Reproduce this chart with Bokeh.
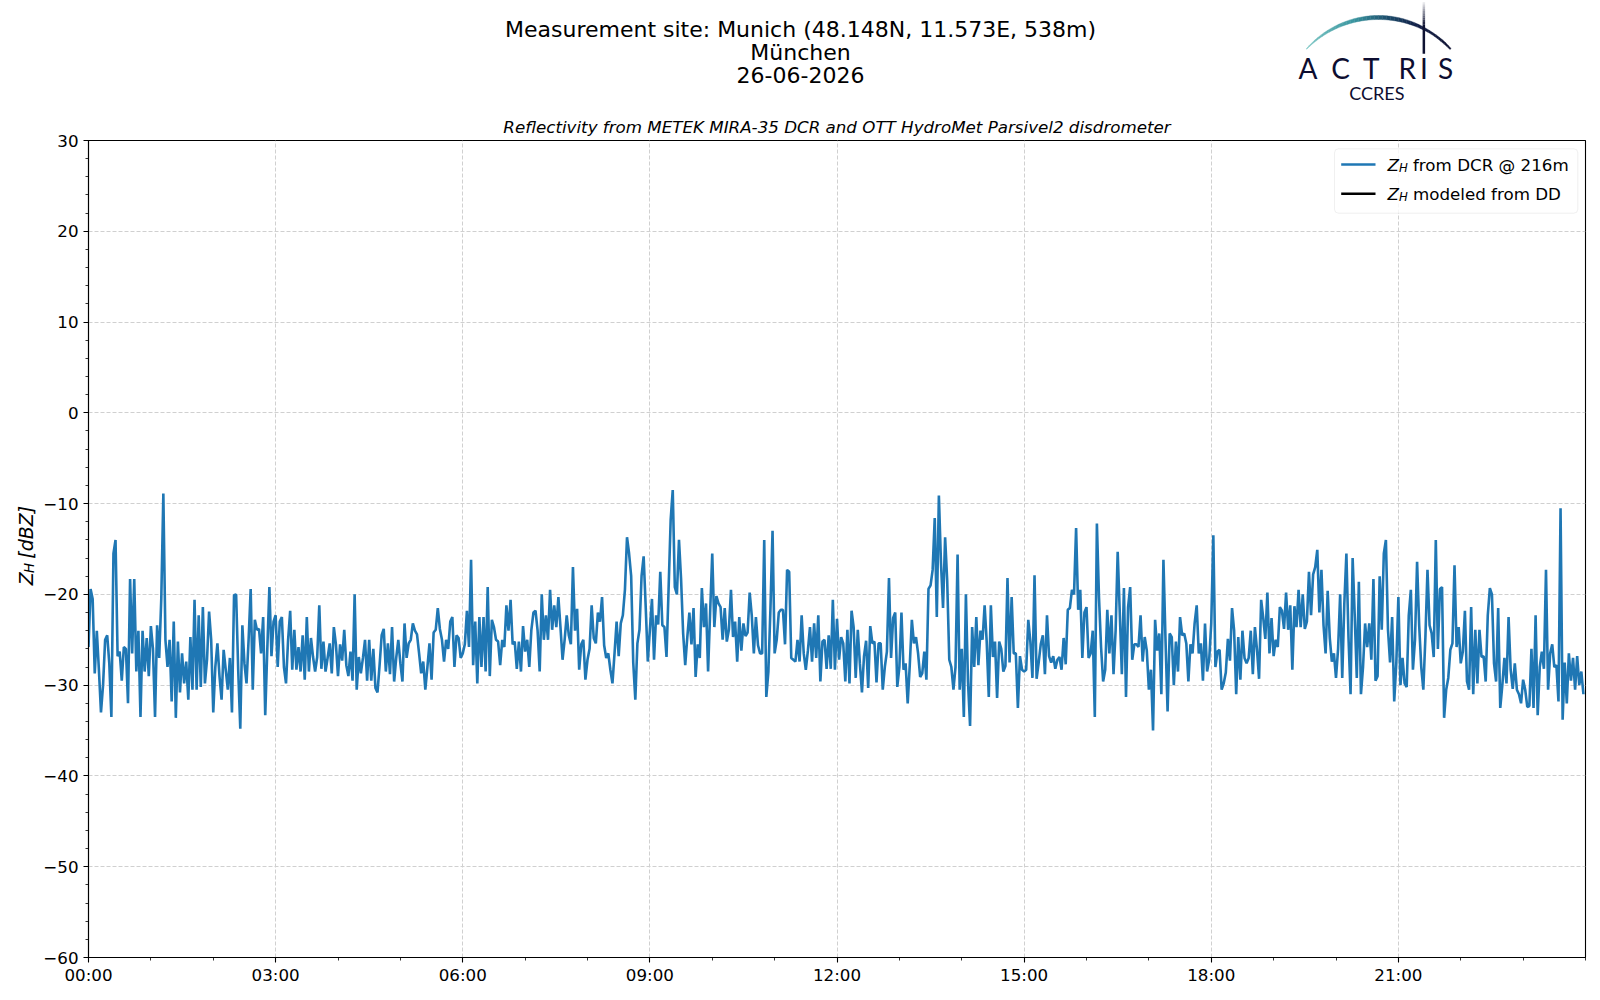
import math
from bokeh.plotting import figure
from bokeh.layouts import column, row
from bokeh.models import Label, BoxAnnotation, FixedTicker, Range1d
from bokeh.core.properties import value
from bokeh.embed import file_html
from bokeh.resources import INLINE

# ---------------- data ----------------
STEP_MIN = 2  # sample spacing in minutes

zh_00_06 = [
    -25.8, -19.4, -20.5, -28.7, -24, -28.3, -33, -30, -25, -24.5, -27.6, -33.5, -15.5, -14, -26.8, -26.3, -29.5, -25.8, -26, -32, -18.3, -26.5, -18.3, -28.5, -24, -33.5, -24, -28.5, -24.8, -29,
    -23.5, -26, -33.5, -23.4, -27, -20.5, -8.9, -25, -28, -25, -31.8, -23, -33.6, -25.2, -30.8, -26.5, -29.8, -27.4, -31.6, -24.7, -30.5, -20.6, -30.5, -22.3, -30.2, -21.4, -29.8, -27.2, -21.9, -25,
    -33, -28, -25.4, -29, -31.6, -26.1, -28.3, -30.5, -27, -33, -20.1, -20, -28.3, -34.8, -23.4, -27.6, -29.8, -25, -19.4, -30.5, -22.8, -23.9, -23.8, -26.5, -22.5, -33.3, -26, -19.2, -26.8, -23,
    -22.3, -28, -23, -22.5, -28, -29.8, -25, -21.8, -28.3, -23.9, -28.3, -25.8, -28.5, -24.5, -29.4, -22.5, -28.5, -24.8, -26.9, -28.5, -26.9, -21.2, -28.2, -25.2, -28.5, -27, -25.4, -28.7, -23.6, -25.5,
    -29, -25.5, -27.3, -23.9, -27.8, -29, -26.3, -29.5, -20, -30.5, -26.9, -28.7, -27, -25, -29.5, -25, -29.5, -26, -30.3, -30.8, -27.8, -24.5, -23.8, -28.5, -25.4, -28.8, -23.6, -29.6, -27, -25,
    -27.6, -29.6, -23.2, -27, -25.4, -25, -23.2, -24, -24.4, -26.5, -28.7, -27.4, -30.5, -28, -25.4, -29.4, -24.2, -23.9, -21.5, -23.8, -25, -27.4, -25, -26, -23, -22.5, -28, -24.5, -24.8, -27,
]
zh_06_12 = [
    -26.5, -25.5, -21.8, -25.8, -16.2, -27.8, -23, -29.8, -22.5, -28, -22.5, -28.5, -19.2, -29, -22.8, -23.6, -25, -25.2, -27.8, -25, -25.8, -21.2, -24, -20.6, -25.5, -25.2, -28.2, -25.2, -28.5, -23.5,
    -26.3, -25, -28, -23.9, -22, -21.8, -24, -28.5, -20, -25, -22.3, -25, -19.5, -23.9, -21.2, -23.6, -20.3, -23.6, -27.2, -25, -22.3, -24.5, -25.5, -17, -24, -21.6, -28.3, -25.5, -25, -29.4,
    -27.2, -26, -21.2, -24.8, -25.4, -22, -23, -20.3, -25.6, -27, -26.5, -28.3, -29.8, -26.5, -23, -26.8, -23.2, -22.3, -19.5, -13.7, -15.5, -18, -27.5, -31.6, -25.4, -23.9, -18, -15.8, -21.4, -27.4,
    -23.9, -20.5, -27.2, -22.3, -23.3, -17.5, -23.4, -23.6, -26.9, -19.4, -11.8, -8.5, -19.2, -20, -14, -18.3, -24.3, -27.8, -24.7, -22, -25.5, -21.5, -29.1, -25.5, -27, -19.3, -23.6, -21, -28.5, -21.8,
    -15.5, -23.6, -20.2, -21, -21.4, -25, -21.5, -25.2, -23.9, -19.5, -24.7, -23, -27.4, -22.5, -26.2, -23.2, -24.6, -24.2, -19.8, -22.3, -26.5, -22.5, -25.6, -26.5, -26.5, -14, -31.3, -28.5, -21.5, -13,
    -26.5, -25, -22, -21.7, -21.7, -25.5, -17.3, -17.5, -27, -27.2, -27.4, -25, -27.4, -22.3, -26.5, -28.3, -26.2, -23.6, -27.4, -23.2, -27, -22.3, -29.6, -25.2, -25, -28.2, -24.5, -28.2, -20.6, -28.3,
]
zh_12_18 = [
    -22.7, -27.2, -24.7, -25.4, -29.6, -23.9, -29.8, -21.8, -23.6, -29.2, -23.9, -27.6, -30.8, -26.8, -25.1, -30.3, -23.5, -25.4, -25.2, -29.7, -25.4, -25.4, -30.5, -28, -26.3, -18.2, -27, -22.6, -22, -30.2,
    -28, -22, -28.3, -27.6, -32, -27.8, -22.8, -25.4, -24.7, -26.5, -29.1, -28.7, -26.3, -29.4, -19.4, -19, -17.3, -11.6, -22.5, -9.1, -16.5, -21.5, -13.7, -18.5, -27.2, -28, -30.5, -28, -15.6, -30.5,
    -26, -33.5, -20, -29.6, -34.5, -23.6, -28, -22.5, -27.8, -24, -25, -21.2, -25.2, -31.3, -21.2, -26.9, -25.2, -31.4, -25.2, -26, -28.5, -27.9, -18.2, -27.5, -20.3, -26.5, -26.5, -32.5, -26.8, -28.3,
    -28.5, -28.3, -22.8, -25.2, -29.2, -17.9, -29.3, -27.5, -25.5, -24.5, -28.8, -22.3, -26.8, -27.5, -26.8, -28.2, -27.2, -26.9, -28.3, -24.8, -27.7, -21.7, -21.5, -19.5, -20, -12.7, -21.7, -19.5, -27, -22,
    -21.4, -27, -26.5, -24, -33.5, -12.2, -20.3, -25.8, -29.6, -28.3, -21.7, -26.5, -22.3, -28.8, -24, -15.3, -22, -28.8, -19.3, -31.3, -21.4, -19.2, -27.2, -25.5, -25.5, -25.8, -22.3, -27.4, -24.7, -26.2,
    -30.5, -28.3, -35, -22.8, -26.2, -24.3, -31, -16.2, -25, -32.9, -24.3, -24.7, -30, -25.2, -28.5, -22.5, -24.5, -24.3, -25.4, -29.6, -25.5, -26.5, -23.2, -21.2, -26.5, -25.4, -29.5, -23.2, -28.5, -27.2,
]
zh_18_24 = [
    -23.2, -13.5, -28, -26.3, -26.1, -30.5, -29.8, -28.6, -24.9, -27.3, -21.5, -24, -31, -24.7, -29.4, -24, -27, -27.6, -27, -24, -28.8, -23.6, -26.1, -29.3, -20.6, -22.6, -24.9, -19.8, -26.5, -22.6,
    -26.8, -25, -25.8, -21.4, -21.8, -23.8, -19.8, -23.9, -21.2, -28.3, -21.3, -23.6, -19.5, -23.6, -20, -23.8, -23, -17.5, -22.3, -17.8, -17, -15.1, -22, -17.3, -23.4, -26.5, -19.6, -24.8, -27.4, -26.5,
    -29.2, -26, -20, -29.2, -21, -15.5, -24.7, -31, -16, -22.3, -29.2, -18.6, -31, -28, -23.2, -25.8, -23.2, -27.2, -18.3, -29.5, -29, -18, -23.9, -15.5, -14, -23.9, -27.5, -22.5, -31.8, -27.6,
    -20.3, -30, -27, -29.8, -30.2, -22.3, -19.5, -28.3, -25, -16.4, -23.4, -28, -30.5, -24.7, -17.3, -23.4, -24.3, -26.9, -14, -26, -19.4, -19.2, -33.6, -30.5, -29.2, -26.1, -25.4, -16.8, -25.8, -23.6,
    -27.6, -26.3, -21.8, -29.6, -30.5, -21.4, -31, -23.9, -29.8, -23.9, -26.9, -26.8, -29.6, -22.3, -19.3, -20, -27.6, -29.6, -21.5, -32.5, -30, -27, -29.8, -22.5, -28.3, -30.4, -27.6, -30.5, -31, -32,
    -29.4, -30.5, -32.4, -32.3, -26, -32.5, -22.3, -33.3, -28, -26.3, -28.2, -17.3, -30.5, -26.5, -25.5, -28, -27.8, -31.8, -10.5, -33.8, -27.5, -32, -26.5, -29.5, -27, -30.5, -26.8, -30, -28.5, -31,
]
zh_dcr = zh_00_06 + zh_06_12 + zh_12_18 + zh_18_24
time_h = [i * STEP_MIN / 60.0 for i in range(len(zh_dcr))]

x_tick_hours = [0, 3, 6, 9, 12, 15, 18, 21]
x_tick_labels = ["00:00", "03:00", "06:00", "09:00", "12:00", "15:00", "18:00", "21:00"]
y_ticks = [-60, -50, -40, -30, -20, -10, 0, 10, 20, 30]
y_tick_labels = ["\u221260", "\u221250", "\u221240", "\u221230", "\u221220", "\u221210", "0", "10", "20", "30"]

title_lines = ["Measurement site: Munich (48.148N, 11.573E, 538m)", "M\u00fcnchen", "26-06-2026"]
subtitle = "Reflectivity from METEK MIRA-35 DCR and OTT HydroMet Parsivel2 disdrometer"
legend_rest = ["from DCR @ 216m", "modeled from DD"]
legend_colors = ["#1f77b4", "#000000"]

# ---------------- page geometry (page pixels) ----------------
PAGE_W = 1592
HEADER_H = 110
LEFT_W = 40
FRAME_L, FRAME_T, FRAME_W, FRAME_H = 88, 140, 1497, 817
MAIN_H = 30 + FRAME_H + 35
FONT = "DejaVu Sans"


def bare(fig):
    fig.outline_line_color = None
    fig.background_fill_color = "white"
    fig.border_fill_color = "white"
    fig.grid.visible = False
    return fig


# ---------------- header: titles and logo ----------------
hdr = bare(figure(width=PAGE_W, height=HEADER_H, title=None, x_range=Range1d(0, PAGE_W),
                  y_range=Range1d(HEADER_H, 0), x_axis_type=None, y_axis_type=None,
                  min_border=0, output_backend="svg", toolbar_location=None))

hdr.text(x=[800] * 3, y=[28.8 + 23 * i for i in range(3)], text=title_lines,
         text_font=value(FONT), text_font_size=value("22px"), text_align="center",
         text_baseline="middle", text_color="black")

stops = [(0.0, (127, 201, 198)), (0.35, (58, 150, 160)), (0.55, (30, 80, 110)),
         (0.75, (18, 30, 70)), (1.0, (14, 18, 50))]


def grad(u):
    for (u0, c0), (u1, c1) in zip(stops[:-1], stops[1:]):
        if u <= u1:
            f = (u - u0) / (u1 - u0)
            return "#%02x%02x%02x" % tuple(int(a + (b - a) * f) for a, b in zip(c0, c1))
    return "#%02x%02x%02x" % stops[-1][1]


CX, CY, R = 1378, 115, 98
A0, A1 = math.radians(137.3), math.radians(42.7)
N = 40
arc_xs, arc_ys, arc_cols = [], [], []
for k in range(N):
    u0, u1 = k / N, (k + 1) / N
    outer, inner = [], []
    for u in (u0, u1):
        a = A0 + (A1 - A0) * u
        t = 0.6 + 3.4 * math.sin(math.pi * min(u, 0.85)) if u < 0.97 else 1.6
        outer.append((CX + (R + t / 2) * math.cos(a), CY - (R + t / 2) * math.sin(a)))
        inner.append((CX + (R - t / 2) * math.cos(a), CY - (R - t / 2) * math.sin(a)))
    poly = outer + inner[::-1]
    arc_xs.append([q[0] for q in poly])
    arc_ys.append([q[1] for q in poly])
    arc_cols.append(grad((u0 + u1) / 2))
hdr.patches(arc_xs, arc_ys, fill_color=arc_cols, line_color=arc_cols, line_width=0.4)

seg_top = [1.7 + 2.2 * k for k in range(10)] + [23.7]
seg_bot = [1.7 + 2.2 * (k + 1) for k in range(10)] + [53.3]
seg_alpha = [0.1 + 0.09 * k for k in range(10)] + [1.0]
hdr.quad(left=[1422.1] * 11, right=[1424.6] * 11, top=seg_top, bottom=seg_bot,
         fill_color="#0e1232", fill_alpha=seg_alpha, line_color=None)

logo_letters = ["A", "C", "T", "R", "I", "S"]
logo_x = [1307.5, 1340, 1370.8, 1406.7, 1423.3, 1445]
hdr.text(x=logo_x, y=[67.8] * 6, text=logo_letters, text_font=value("Lato"),
         text_font_size=value("28px"), text_align="center", text_baseline="middle",
         text_color="#0d0d30")
hdr.text(x=[1376.3], y=[92.5], text=["CCRES"], text_font=value("Lato"),
         text_font_size=value("18px"), text_align="center", text_baseline="middle",
         text_color="#0d0d30")

# ---------------- left strip: y axis label ----------------
lft = bare(figure(width=LEFT_W, height=MAIN_H, title=None, x_range=Range1d(0, LEFT_W),
                  y_range=Range1d(HEADER_H + MAIN_H, HEADER_H), x_axis_type=None, y_axis_type=None,
                  min_border=0, output_backend="svg", toolbar_location=None))
lft.text(x=[25, 28.5, 25], y=[590, 577, 561.5], text=["Z", "H", "[dBZ]"],
         text_font=value(FONT), text_font_size=["19px", "13.3px", "19px"],
         text_font_style="italic", angle=math.pi / 2, text_align="left",
         text_baseline="middle", text_color="black")

# ---------------- main plot ----------------
p = figure(frame_width=FRAME_W, frame_height=FRAME_H,
           min_border_left=FRAME_L - LEFT_W, min_border_top=FRAME_T - HEADER_H,
           min_border_right=7, min_border_bottom=35,
           x_range=Range1d(0, 24), y_range=Range1d(-60, 30),
           output_backend="svg", toolbar_location=None)

p.title.text = subtitle
p.title.align = "center"
p.title.text_font = FONT
p.title.text_font_size = "16.7px"
p.title.text_font_style = "italic"
p.title.text_color = "black"
p.title.standoff = 7

p.background_fill_color = "white"
p.border_fill_color = "white"
p.outline_line_color = "black"
p.outline_line_width = 1.1
p.outline_line_alpha = 1.0

p.xaxis.ticker = FixedTicker(ticks=x_tick_hours, minor_ticks=list(range(0, 25)))
p.xaxis.major_label_overrides = dict(zip(x_tick_hours, x_tick_labels))
p.yaxis.ticker = FixedTicker(ticks=y_ticks, minor_ticks=list(range(-60, 31, 2)))
p.yaxis.major_label_overrides = dict(zip(y_ticks, y_tick_labels))

for ax in (p.xaxis, p.yaxis):
    ax.major_label_text_font = FONT
    ax.major_label_text_font_size = "16.7px"
    ax.major_label_text_color = "black"
    ax.axis_line_color = "black"
    ax.axis_line_width = 1.1
    ax.major_tick_line_color = "black"
    ax.minor_tick_line_color = "black"
    ax.major_tick_line_width = 1.1
    ax.minor_tick_line_width = 0.8
    ax.major_tick_in = 0
    ax.major_tick_out = 5
    ax.minor_tick_in = 0
    ax.minor_tick_out = 3
    ax.major_label_standoff = 5
p.xaxis.major_label_standoff = 2

p.grid.grid_line_color = "#d0d0d0"
p.grid.grid_line_dash = "4 2"
p.grid.grid_line_width = 1

p.line(time_h, zh_dcr, line_color="#1f77b4", line_width=2.6)


def sx(px):
    return px - FRAME_L


def sy(py):
    return FRAME_T + FRAME_H - py


def add_text(text, px, py, size, style="normal"):
    p.add_layout(Label(x=sx(px), y=sy(py), x_units="screen", y_units="screen", text=text,
                       text_font=FONT, text_font_size=f"{size}px", text_font_style=style,
                       text_align="left", text_baseline="middle", text_color="black"))


def screen_box(l, r, t, b, **kw):
    return BoxAnnotation(left=sx(l), right=sx(r), top=sy(t), bottom=sy(b),
                         left_units="screen", right_units="screen",
                         top_units="screen", bottom_units="screen", **kw)


# legend
p.add_layout(screen_box(1334, 1577.3, 148.3, 212.7, fill_color="white", fill_alpha=0.8,
                        line_color="#cccccc", line_width=1, border_radius=4))
for i, (rest, col) in enumerate(zip(legend_rest, legend_colors)):
    yc = 164 + 29.3 * i
    p.add_layout(screen_box(1340.7, 1375, yc - 1.2, yc + 1.2, fill_color=col, fill_alpha=1,
                            line_color=None))
    add_text("Z", 1387, yc, 16.7, style="italic")
    add_text("H", 1398.4, yc + 3, 11.7, style="italic")
    add_text(rest, 1412.5, yc, 16.7)

layout = column(hdr, row(lft, p, spacing=0), spacing=0)
open("out.html", "w").write(file_html(layout, INLINE))
